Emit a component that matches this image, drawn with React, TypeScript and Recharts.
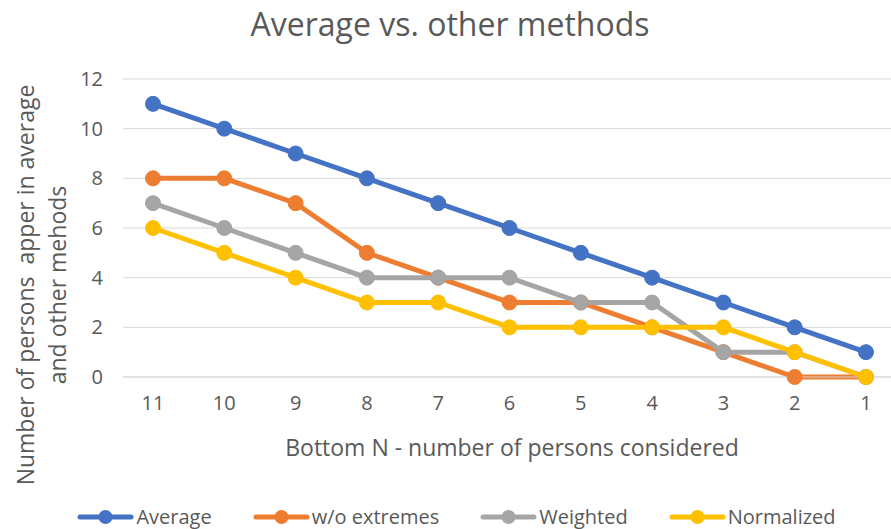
import React from 'react';
import { LineChart, Line, XAxis, YAxis, CartesianGrid } from 'recharts';

const categories = ['11', '10', '9', '8', '7', '6', '5', '4', '3', '2', '1'];
const average = [11, 10, 9, 8, 7, 6, 5, 4, 3, 2, 1];
const withoutExtremes = [8, 8, 7, 5, 4, 3, 3, 2, 1, 0, 0];
const weighted = [7, 6, 5, 4, 4, 4, 3, 3, 1, 1, 0];
const normalized = [6, 5, 4, 3, 3, 2, 2, 2, 2, 1, 0];
const yTicks = [0, 2, 4, 6, 8, 10, 12];

const series = [
  { key: 'Average', color: '#4472C4', values: average },
  { key: 'w/o extremes', color: '#ED7D31', values: withoutExtremes },
  { key: 'Weighted', color: '#A5A5A5', values: weighted },
  { key: 'Normalized', color: '#FFC000', values: normalized },
];

const data = categories.map((name, i) => {
  const row: Record<string, string | number> = { name };
  series.forEach((s) => {
    row[s.key] = s.values[i];
  });
  return row;
});

const FONT = '"Open Sans", "Noto Sans", sans-serif';
const GREY = '#595959';

const ChartLegend = () => (
  <div
    style={{
      position: 'absolute',
      left: 0,
      top: 503,
      width: 891,
      display: 'flex',
      justifyContent: 'center',
      fontSize: 20,
      color: GREY,
      paddingLeft: 22,
      boxSizing: 'border-box',
    }}
  >
    {series.map((s, i) => (
      <div key={s.key} style={{ display: 'flex', alignItems: 'center', marginRight: i < series.length - 1 ? 41 : 0 }}>
        <svg width={57} height={16} style={{ marginRight: 2 }}>
          <line x1={3} y1={8} x2={54} y2={8} stroke={s.color} strokeWidth={5} strokeLinecap="round" />
          <circle cx={28.5} cy={8} r={7} fill={s.color} />
        </svg>
        <span>{s.key}</span>
      </div>
    ))}
  </div>
);

export default function App() {
  return (
    <div style={{ position: 'absolute', left: 0, top: 0, width: 891, height: 529, background: '#fff', fontFamily: FONT }}>
      <div style={{ position: 'absolute', left: 0, top: 2, width: 900, textAlign: 'center', fontSize: 32, color: GREY }}>
        Average vs. other methods
      </div>
      <div
        style={{
          position: 'absolute',
          left: 41 - 260,
          top: 285 - 32,
          width: 520,
          height: 64,
          transform: 'rotate(-90deg)',
          textAlign: 'center',
          fontSize: 23,
          lineHeight: '32px',
          color: GREY,
        }}
      >
        Number of persons&nbsp; apper in average
        <br />
        and other mehods
      </div>
      <div style={{ position: 'absolute', left: 123, top: 431, width: 778, textAlign: 'center', fontSize: 23, color: GREY }}>
        Bottom N - number of persons considered
      </div>
      <LineChart width={891} height={529} data={data} margin={{ top: 79, right: 0, bottom: 0, left: 83 }}>
        <CartesianGrid vertical={false} stroke="#D9D9D9" strokeWidth={1} />
        <XAxis
          dataKey="name"
          scale="point"
          padding={{ left: 30, right: 25 }}
          axisLine={{ stroke: '#D9D9D9' }}
          tickLine={false}
          tickMargin={13}
          height={152}
          tick={{ fill: GREY, fontSize: 20, fontFamily: FONT }}
        />
        <YAxis
          domain={[0, 12]}
          ticks={yTicks}
          width={40}
          axisLine={false}
          tickLine={false}
          tickMargin={14}
          tick={{ fill: GREY, fontSize: 20, fontFamily: FONT }}
        />
        {series.map((s) => (
          <Line
            key={s.key}
            type="linear"
            dataKey={s.key}
            stroke={s.color}
            strokeWidth={5}
            dot={{ r: 7.5, fill: s.color, stroke: s.color, strokeWidth: 1 }}
            activeDot={false}
            isAnimationActive={false}
          />
        ))}
      </LineChart>
      <ChartLegend />
    </div>
  );
}
